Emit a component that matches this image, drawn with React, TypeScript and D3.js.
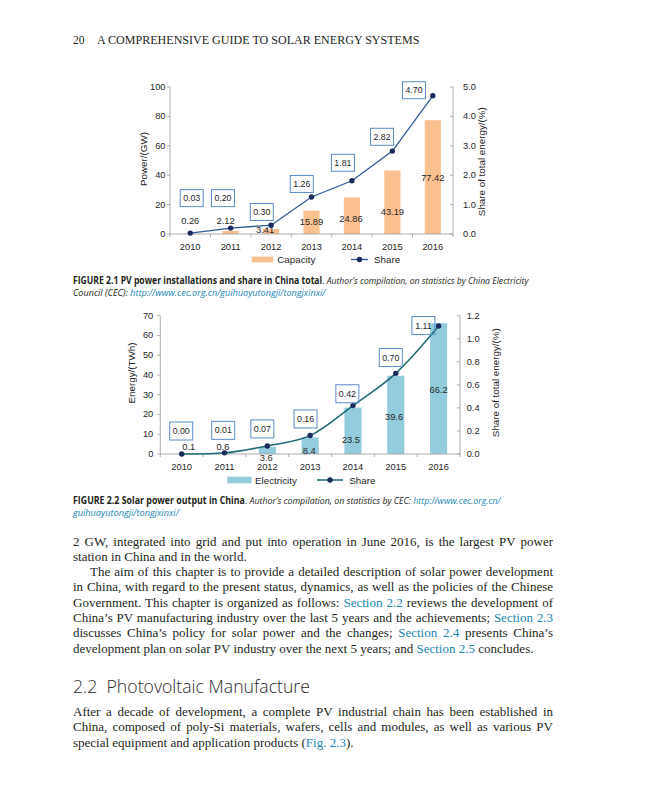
import React, { useLayoutEffect, useRef } from "react";
import * as d3 from "d3";

// ---------- data ----------
const years = ["2010", "2011", "2012", "2013", "2014", "2015", "2016"];
const capacityGW = [0.26, 2.12, 3.41, 15.89, 24.86, 43.19, 77.42];
const capacityShare = [0.03, 0.2, 0.3, 1.26, 1.81, 2.82, 4.7];
const electricityTWh = [0.1, 0.6, 3.6, 8.4, 23.5, 39.6, 66.2];
const electricityShare = [0.0, 0.01, 0.07, 0.16, 0.42, 0.7, 1.11];
const capacityTicks = [0, 20, 40, 60, 80, 100];
const capacityShareTicks = [0, 1, 2, 3, 4, 5];
const electricityTicks = [0, 10, 20, 30, 40, 50, 60, 70];
const electricityShareTicks = [0, 0.2, 0.4, 0.6, 0.8, 1.0, 1.2];

// label nudges (relative to the anchor computed from scales)
const fig1BarNudge = [[0, -12.8], [-5, -11.4], [-6, -1.5], [0, -0.6], [-1, 3.2], [0, 9.4], [0, 0.8]];
const fig1BoxNudge = [[1.5, -35], [-7.7, -30], [-9.3, -13.2], [-9.7, -13], [-9, -18], [-10.3, -14.3], [-18.8, -5.6]];
const fig2BarNudge = [[7, -7.2], [-1.6, -6.7], [-1, 7.9], [-1, 5], [-2, 9.2], [-1.7, 1.8], [0, 1.4]];
const fig2BoxNudge = [[-0.5, -23], [-1.3, -22.5], [-5, -17], [-4.6, -16.6], [-5.6, -11.8], [-5, -15.8], [-15.2, -0.5]];

const SANS = "'Liberation Sans', Arial, sans-serif";
const SERIF = "'Liberation Serif', 'Times New Roman', serif";
const CAPF = "'Open Sans', 'Noto Sans', sans-serif";
const TEXT = "#231F20";
const LINK = "#1B86B6";

type Seg = [string, string?];

function FitText({ x, y, width, style, children }: any) {
  const ref = useRef<SVGTextElement>(null);
  useLayoutEffect(() => {
    const el = ref.current;
    if (!el) return;
    el.removeAttribute("transform");
    const w = el.getComputedTextLength();
    if (w > 0) {
      const k = width / w;
      el.setAttribute("transform", `translate(${x},0) scale(${k},1) translate(${-x},0)`);
    }
  }, [x, width]);
  return (
    <text ref={ref} x={x} y={y} style={style}>
      {children}
    </text>
  );
}

function JustText({ x, y, right, justify, style, children }: any) {
  const ref = useRef<SVGTextElement>(null);
  useLayoutEffect(() => {
    const el = ref.current;
    if (!el || !justify) return;
    el.style.wordSpacing = "0px";
    const w = el.getComputedTextLength();
    const spaces = ((el.textContent || "").match(/ /g) || []).length;
    if (spaces > 0) el.style.wordSpacing = `${(right - x - w) / spaces}px`;
  }, [x, right, justify]);
  return (
    <text ref={ref} x={x} y={y} style={style}>
      {children}
    </text>
  );
}

function segSpan(s: Seg, i: number) {
  const kind = s[1];
  const st: any = {};
  if (kind === "b") st.fontWeight = 700;
  if (kind === "i") st.fontStyle = "italic";
  if (kind === "li") { st.fontStyle = "italic"; st.fill = LINK; }
  if (kind === "l") st.fill = LINK;
  return (
    <tspan key={i} style={st}>
      {s[0]}
    </tspan>
  );
}

function Combo(p: any) {
  const { left, right, top, bottom, values, shares, leftMax, rightMax, leftTicks, rightTicks, rightFmt,
    barColor, lineColor, curve, barNudge, boxNudge, leftTitle, rightTitle, leftTitleX, leftTitleY,
    rightTitleX, rightTitleY, leftGap, rightGap, legend, boxW, boxH, lineW } = p;
  const x = d3.scaleBand<string>().domain(years).range([left, right]).paddingInner(0.6).paddingOuter(0.3);
  const yL = d3.scaleLinear().domain([0, leftMax]).range([bottom, top]);
  const yR = d3.scaleLinear().domain([0, rightMax]).range([bottom, top]);
  const cx = (i: number) => (x(years[i]) as number) + x.bandwidth() / 2;
  const line = d3.line<number>().x((_, i) => cx(i)).y((d) => yR(d)).curve(curve);
  const axisColor = "#9A9A9A";
  const fs = 9.3;
  const boundaries = d3.range(years.length + 1).map((i) => left + i * x.step());
  return (
    <g style={{ fontFamily: SANS, fill: "#262626" }}>
      {values.map((v: number, i: number) => (
        <rect key={"b" + i} x={x(years[i])} y={yL(v)} width={x.bandwidth()} height={bottom - yL(v)} fill={barColor} />
      ))}
      <line x1={left} x2={left} y1={top} y2={bottom} stroke={axisColor} strokeWidth={0.8} />
      <line x1={right} x2={right} y1={top} y2={bottom} stroke={axisColor} strokeWidth={0.8} />
      <line x1={left} x2={right} y1={bottom} y2={bottom} stroke={axisColor} strokeWidth={0.8} />
      {boundaries.map((b, i) => (
        <line key={"xb" + i} x1={b} x2={b} y1={bottom} y2={bottom + 3} stroke={axisColor} strokeWidth={0.8} />
      ))}
      {leftTicks.map((t: number) => (
        <g key={"lt" + t}>
          <line x1={left - 3} x2={left} y1={yL(t)} y2={yL(t)} stroke={axisColor} strokeWidth={0.8} />
          <text x={left - leftGap} y={yL(t)} textAnchor="end" dominantBaseline="central" fontSize={fs}>
            {t}
          </text>
        </g>
      ))}
      {rightTicks.map((t: number) => (
        <g key={"rt" + t}>
          <line x1={right - 3} x2={right} y1={yR(t)} y2={yR(t)} stroke={axisColor} strokeWidth={0.8} />
          <text x={right + rightGap} y={yR(t)} dominantBaseline="central" fontSize={fs}>
            {rightFmt(t)}
          </text>
        </g>
      ))}
      {years.map((yr, i) => (
        <text key={"x" + yr} x={cx(i)} y={bottom + 13} textAnchor="middle" dominantBaseline="central" fontSize={fs}>
          {yr}
        </text>
      ))}
      <text transform={`translate(${leftTitleX},${leftTitleY}) rotate(-90)`} textAnchor="middle" dominantBaseline="central" fontSize={9.8}>
        {leftTitle}
      </text>
      <text transform={`translate(${rightTitleX},${rightTitleY}) rotate(-90)`} textAnchor="middle" dominantBaseline="central" fontSize={9.8}>
        {rightTitle}
      </text>
      {values.map((v: number, i: number) => (
        <text key={"bl" + i} x={cx(i) + barNudge[i][0]} y={(yL(v) + bottom) / 2 + barNudge[i][1]} textAnchor="middle" dominantBaseline="central" fontSize={fs}>
          {String(v)}
        </text>
      ))}
      <path d={line(shares) as string} fill="none" stroke={lineColor} strokeWidth={lineW} />
      {shares.map((s: number, i: number) => (
        <circle key={"c" + i} cx={cx(i)} cy={yR(s)} r={2.7} fill="#1C2B5E" />
      ))}
      {shares.map((s: number, i: number) => {
        const bx = cx(i) + boxNudge[i][0];
        const by = yR(s) + boxNudge[i][1];
        return (
          <g key={"bx" + i}>
            <rect x={bx - boxW / 2} y={by - boxH / 2} width={boxW} height={boxH} fill="none" stroke="#5A8CC8" strokeWidth={1} />
            <text x={bx} y={by} textAnchor="middle" dominantBaseline="central" fontSize={8.8}>
              {s.toFixed(2)}
            </text>
          </g>
        );
      })}
      <rect x={legend.swatchX} y={legend.y - legend.swatchH / 2} width={legend.swatchW} height={legend.swatchH} fill={barColor} />
      <text x={legend.textX} y={legend.y} dominantBaseline="central" fontSize={9.8}>
        {legend.label}
      </text>
      <line x1={legend.lineX1} x2={legend.lineX2} y1={legend.y} y2={legend.y} stroke={lineColor} strokeWidth={lineW} />
      <circle cx={(legend.lineX1 + legend.lineX2) / 2} cy={legend.y} r={2.7} fill="#1C2B5E" />
      <text x={legend.shareX} y={legend.y} dominantBaseline="central" fontSize={9.8}>
        Share
      </text>
    </g>
  );
}

const para1: { x: number; j: boolean; segs: Seg[] }[] = [
  { x: 73, j: true, segs: [["2 GW, integrated into grid and put into operation in June 2016, is the largest PV power"]] },
  { x: 73, j: false, segs: [["station in China and in the world."]] },
  { x: 90, j: true, segs: [["The aim of this chapter is to provide a detailed description of solar power development"]] },
  { x: 73, j: true, segs: [["in China, with regard to the present status, dynamics, as well as the policies of the Chinese"]] },
  { x: 73, j: true, segs: [["Government. This chapter is organized as follows: "], ["Section 2.2", "l"], [" reviews the development of"]] },
  { x: 73, j: true, segs: [["China\u2019s PV manufacturing industry over the last 5 years and the achievements; "], ["Section 2.3", "l"]] },
  { x: 73, j: true, segs: [["discusses China\u2019s policy for solar power and the changes; "], ["Section 2.4", "l"], [" presents China\u2019s"]] },
  { x: 73, j: false, segs: [["development plan on solar PV industry over the next 5 years; and "], ["Section 2.5", "l"], [" concludes."]] },
];
const para2: { x: number; j: boolean; segs: Seg[] }[] = [
  { x: 73, j: true, segs: [["After a decade of development, a complete PV industrial chain has been established in"]] },
  { x: 73, j: true, segs: [["China, composed of poly-Si materials, wafers, cells and modules, as well as various PV"]] },
  { x: 73, j: false, segs: [["special equipment and application products ("], ["Fig. 2.3", "l"], [")."]] },
];

export default function App() {
  const bodyStyle = { fontFamily: SERIF, fontSize: 13, fill: TEXT };
  const capStyle = { fontFamily: CAPF, fontSize: 9.8, fill: TEXT };
  const RIGHT = 553;
  const LEAD = 15.3;
  return (
    <svg width={647} height={800} style={{ position: "absolute", left: 0, top: 0, background: "#fff" }}>
      <rect width={647} height={800} fill="#fff" />
      <text x={73} y={43.8} style={{ fontFamily: SERIF, fontSize: 11.5, fill: TEXT }}>20</text>
      <FitText x={97} y={43.8} width={323} style={{ fontFamily: SERIF, fontSize: 11.5, fill: TEXT }}>
        A COMPREHENSIVE GUIDE TO SOLAR ENERGY SYSTEMS
      </FitText>

      <Combo
        left={170} right={453} top={87} bottom={234}
        values={capacityGW} shares={capacityShare}
        leftMax={100} rightMax={5}
        leftTicks={capacityTicks} rightTicks={capacityShareTicks}
        rightFmt={(t: number) => t.toFixed(1)}
        barColor="#FAC090" lineColor="#2E5A9A" curve={d3.curveLinear} lineW={1.3}
        barNudge={fig1BarNudge} boxNudge={fig1BoxNudge} boxW={23} boxH={17}
        leftTitle="Power/(GW)" rightTitle="Share of total energy/(%)"
        leftTitleX={143} leftTitleY={159} rightTitleX={481.7} rightTitleY={161.7}
        leftGap={4.5} rightGap={10}
        legend={{ y: 259.5, swatchX: 251.7, swatchW: 21.6, swatchH: 5.8, textX: 277.3, label: "Capacity", lineX1: 351, lineX2: 368, shareX: 374 }}
      />

      <FitText x={73} y={284} width={456} style={capStyle}>
        {segSpan(["FIGURE 2.1  PV power installations and share in China total", "b"], 0)}
        {segSpan([". "], 1)}
        {segSpan(["Author\u2019s compilation, on statistics by China Electricity", "i"], 2)}
      </FitText>
      <FitText x={73} y={296} width={253} style={capStyle}>
        {segSpan(["Council (CEC): ", "i"], 0)}
        {segSpan(["http://www.cec.org.cn/guihuayutongji/tongjxinxi/", "li"], 1)}
      </FitText>

      <Combo
        left={160.3} right={460} top={315.7} bottom={454}
        values={electricityTWh} shares={electricityShare}
        leftMax={70} rightMax={1.2}
        leftTicks={electricityTicks} rightTicks={electricityShareTicks}
        rightFmt={(t: number) => t.toFixed(1)}
        barColor="#93CDDD" lineColor="#1E6A74" curve={d3.curveCatmullRom.alpha(0.5)} lineW={1.5}
        barNudge={fig2BarNudge} boxNudge={fig2BoxNudge} boxW={23} boxH={18}
        leftTitle="Energy/(TWh)" rightTitle="Share of total energy/(%)"
        leftTitleX={131.7} leftTitleY={373} rightTitleX={495} rightTitleY={382.7}
        leftGap={7} rightGap={6.7}
        legend={{ y: 480, swatchX: 227.3, swatchW: 24.3, swatchH: 6.6, textX: 255, label: "Electricity", lineX1: 317, lineX2: 343, shareX: 349.3 }}
      />

      <FitText x={73} y={504} width={428} style={capStyle}>
        {segSpan(["FIGURE 2.2  Solar power output in China", "b"], 0)}
        {segSpan([". "], 1)}
        {segSpan(["Author\u2019s compilation, on statistics by CEC: ", "i"], 2)}
        {segSpan(["http://www.cec.org.cn/", "li"], 3)}
      </FitText>
      <FitText x={73} y={516.5} width={106} style={capStyle}>
        {segSpan(["guihuayutongji/tongjxinxi/", "li"], 0)}
      </FitText>

      {para1.map((ln, i) => (
        <JustText key={"p1" + i} x={ln.x} y={545.5 + i * LEAD} right={RIGHT} justify={ln.j} style={bodyStyle}>
          {ln.segs.map((s, k) => segSpan(s, k))}
        </JustText>
      ))}

      <FitText x={73} y={692.7} width={237} style={{ fontFamily: CAPF, fontSize: 18.5, fontWeight: 300, fill: "#2b2b2b" }}>
        2.2{"\u00a0\u00a0"}Photovoltaic Manufacture
      </FitText>

      {para2.map((ln, i) => (
        <JustText key={"p2" + i} x={ln.x} y={716 + i * LEAD} right={RIGHT} justify={ln.j} style={bodyStyle}>
          {ln.segs.map((s, k) => segSpan(s, k))}
        </JustText>
      ))}
    </svg>
  );
}
